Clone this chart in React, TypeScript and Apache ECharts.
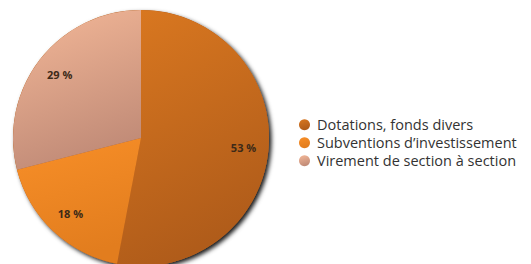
import React, { useEffect, useRef } from "react";
import * as echarts from "echarts";

const categories = ["Dotations, fonds divers", "Subventions d\u2019investissement", "Virement de section à section"];
const values = [53, 18, 29];
const topColors = ["#da7820", "#f88f28", "#f4b898"];
const bottomColors = ["#b05c1a", "#e27d1e", "#c28c78"];
const legendColors = ["#d06a1a", "#f28a24", "#f0ae8e"];

export default function App() {
  const ref = useRef<HTMLDivElement>(null);
  useEffect(() => {
    const chart = echarts.init(ref.current!, null, { renderer: "svg" });
    const grad = (i: number) =>
      new echarts.graphic.LinearGradient(0, 0, 0.3, 1, [
        { offset: 0, color: topColors[i] },
        { offset: 1, color: bottomColors[i] },
      ]);
    chart.setOption({
      animation: false,
      color: legendColors,
      legend: {
        orient: "vertical",
        left: 299,
        top: 116,
        padding: 0,
        itemWidth: 11,
        itemHeight: 11,
        itemGap: 0.5,
        icon: "circle",
        data: categories,
        textStyle: { fontFamily: "Open Sans", fontSize: 14.5, lineHeight: 17.5, color: "#333333", padding: [0, 0, 0, 2] },
      },
      series: [
        {
          type: "pie",
          center: [141, 138],
          radius: [0, 128],
          silent: true,
          z: 1,
          label: { show: false },
          itemStyle: {
            color: "#b05c1a",
            shadowColor: "rgba(0,0,0,0.9)",
            shadowBlur: 4,
            shadowOffsetX: 2.5,
            shadowOffsetY: 2.5,
          },
          data: [{ value: 1, name: "__bg" }],
          legendHoverLink: false,
        },
        {
          type: "pie",
          center: [141, 138],
          radius: [0, 128],
          startAngle: 90,
          clockwise: true,
          z: 2,
          label: { show: false },
          itemStyle: { borderWidth: 0 },
          data: categories.map((name, i) => ({ name, value: values[i], itemStyle: { color: grad(i) } })),
        },
        {
          type: "pie",
          center: [141, 138],
          radius: [72, 128],
          startAngle: 90,
          clockwise: true,
          z: 3,
          silent: true,
          itemStyle: { color: "rgba(0,0,0,0)", borderWidth: 0 },
          label: {
            show: true,
            position: "inside",
            formatter: "{c} %",
            fontFamily: "Open Sans",
            fontSize: 11,
            fontWeight: "bold",
            color: "#3d2a18",
          },
          labelLine: { show: false },
          data: categories.map((name, i) => ({ name, value: values[i] })),
        },
      ],
    });
    return () => chart.dispose();
  }, []);
  return <div ref={ref} style={{ position: "fixed", left: 0, top: 0, width: 531, height: 264, background: "#ffffff" }} />;
}
